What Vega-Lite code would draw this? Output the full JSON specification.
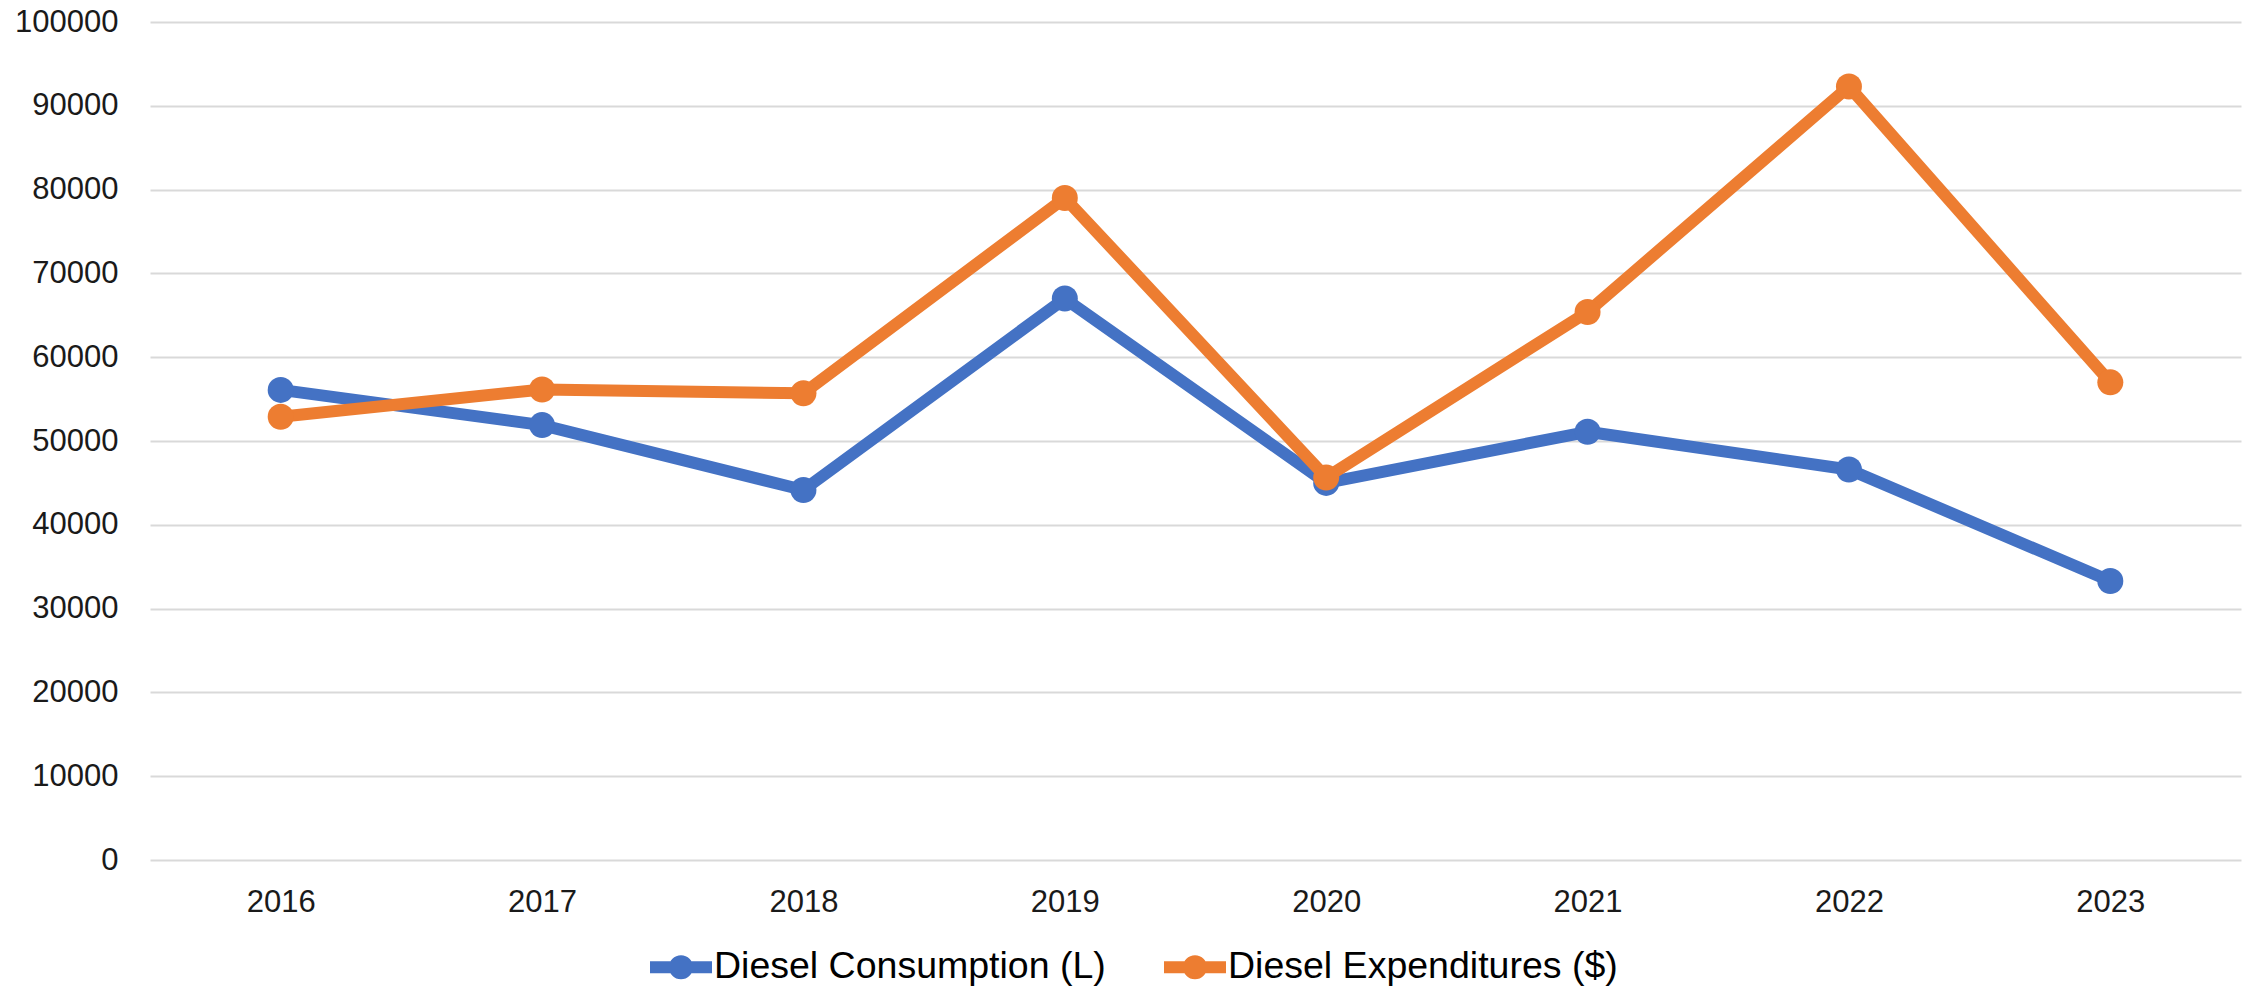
{
  "$schema": "https://vega.github.io/schema/vega-lite/v6.json",
  "width": 2091,
  "height": 838,
  "autosize": {"type": "none"},
  "padding": {"left": 150, "top": 22, "right": 11, "bottom": 130},
  "background": "white",
  "config": {
    "view": {"stroke": null},
    "font": "Liberation Sans"
  },
  "data": {
    "values": [
      {"year": "2016", "series": "Diesel Consumption (L)", "value": 56100},
      {"year": "2017", "series": "Diesel Consumption (L)", "value": 51900},
      {"year": "2018", "series": "Diesel Consumption (L)", "value": 44150},
      {"year": "2019", "series": "Diesel Consumption (L)", "value": 67000},
      {"year": "2020", "series": "Diesel Consumption (L)", "value": 45000},
      {"year": "2021", "series": "Diesel Consumption (L)", "value": 51100},
      {"year": "2022", "series": "Diesel Consumption (L)", "value": 46600},
      {"year": "2023", "series": "Diesel Consumption (L)", "value": 33300},
      {"year": "2016", "series": "Diesel Expenditures ($)", "value": 52900},
      {"year": "2017", "series": "Diesel Expenditures ($)", "value": 56150},
      {"year": "2018", "series": "Diesel Expenditures ($)", "value": 55700},
      {"year": "2019", "series": "Diesel Expenditures ($)", "value": 79000},
      {"year": "2020", "series": "Diesel Expenditures ($)", "value": 45650},
      {"year": "2021", "series": "Diesel Expenditures ($)", "value": 65400},
      {"year": "2022", "series": "Diesel Expenditures ($)", "value": 92300},
      {"year": "2023", "series": "Diesel Expenditures ($)", "value": 57000}
    ]
  },
  "encoding": {
    "x": {
      "field": "year",
      "type": "ordinal",
      "scale": {"type": "point", "padding": 0.5},
      "axis": {
        "title": null,
        "labelAngle": 0,
        "domain": false,
        "ticks": false,
        "labelFontSize": 31,
        "labelColor": "#1a1a1a",
        "labelPadding": 27
      }
    },
    "y": {
      "field": "value",
      "type": "quantitative",
      "scale": {"domain": [0, 100000], "nice": false, "zero": true},
      "axis": {
        "title": null,
        "values": [0, 10000, 20000, 30000, 40000, 50000, 60000, 70000, 80000, 90000, 100000],
        "format": "d",
        "domain": false,
        "ticks": false,
        "grid": true,
        "gridColor": "#d9d9d9",
        "gridWidth": 2,
        "labelFontSize": 31,
        "labelColor": "#1a1a1a",
        "labelPadding": 32
      }
    },
    "color": {
      "field": "series",
      "type": "nominal",
      "scale": {
        "domain": ["Diesel Consumption (L)", "Diesel Expenditures ($)"],
        "range": ["#4472C4", "#ED7D31"]
      },
      "legend": {
        "title": null,
        "orient": "none",
        "direction": "horizontal",
        "legendX": 500,
        "legendY": 914,
        "symbolType": "M-1,-0.19 L1,-0.19 L1,0.19 L-1,0.19 Z M-0.39,0 A0.39,0.39 0 1,1 0.39,0 A0.39,0.39 0 1,1 -0.39,0 Z",
        "symbolSize": 3844,
        "symbolStrokeWidth": 0,
        "labelFontSize": 37.5,
        "labelColor": "#000000",
        "labelOffset": 2,
        "columnPadding": 58,
        "labelLimit": 800,
        "encode": {
          "symbols": {
            "update": {
              "fill": {"scale": "color", "field": "value"},
              "stroke": {"value": "transparent"},
              "opacity": {"value": 1}
            }
          }
        }
      }
    }
  },
  "layer": [
    {"mark": {"type": "line", "strokeWidth": 12, "strokeJoin": "round"}},
    {"mark": {"type": "point", "filled": true, "size": 676, "opacity": 1, "shape": "circle"}}
  ]
}
